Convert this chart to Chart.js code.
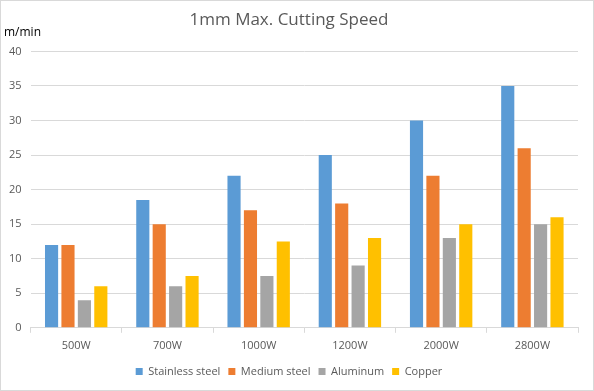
<!DOCTYPE html>
<html>
<head>
<meta charset="utf-8">
<script src="https://cdn.jsdelivr.net/npm/chart.js@4"></script>
<style>
  body { margin: 0; background: #fff; }
</style>
</head>
<body>
<canvas id="chart" width="594" height="391"></canvas>
<script>
const powers = ["500W", "700W", "1000W", "1200W", "2000W", "2800W"];
const stainless = [12, 18.5, 22, 25, 30, 35];
const medium = [12, 15, 17, 18, 22, 26];
const aluminum = [4, 6, 7.5, 9, 13, 15];
const copper = [6, 7.5, 12.5, 13, 15, 16];

const textColor = "#595959";
const gridColor = "#d9d9d9";
const font = "'Open Sans', 'Noto Sans', sans-serif";

const frame = {
  id: "frame",
  afterDraw(chart) {
    const ctx = chart.ctx;
    ctx.save();
    ctx.fillStyle = "#000";
    ctx.font = "12px " + font;
    ctx.textBaseline = "middle";
    ctx.fillText("m/min", 4, 33);
    ctx.strokeStyle = gridColor;
    ctx.lineWidth = 1;
    ctx.strokeRect(0.5, 0.5, 593, 390);
    ctx.restore();
  }
};

const bar = (label, data, color) => ({ label, data, backgroundColor: color, categoryPercentage: 0.72, barPercentage: 0.8 });

new Chart(document.querySelector("#chart"), {
  type: "bar",
  data: {
    labels: powers,
    datasets: [
      bar("Stainless steel", stainless, "#5b9bd5"),
      bar("Medium steel", medium, "#ed7d31"),
      bar("Aluminum", aluminum, "#a5a5a5"),
      bar("Copper", copper, "#ffc000")
    ]
  },
  options: {
    responsive: false,
    animation: false,
    layout: { padding: { left: 0, right: 16, top: 4, bottom: 4 } },
    plugins: {
      title: {
        display: true,
        text: "1mm Max. Cutting Speed",
        color: textColor,
        font: { family: font, size: 17, weight: "normal" },
        padding: { top: 6, bottom: 21 }
      },
      legend: {
        position: "bottom",
        labels: { boxWidth: 7, boxHeight: 7, color: textColor, font: { family: font, size: 11 }, padding: 8 }
      },
      tooltip: { enabled: false }
    },
    scales: {
      x: {
        grid: { drawOnChartArea: false, drawTicks: true, tickLength: 5, color: gridColor },
        border: { color: gridColor },
        ticks: { color: textColor, font: { family: font, size: 11 }, padding: 6 }
      },
      y: {
        min: 0,
        max: 40,
        ticks: { stepSize: 5, color: textColor, font: { family: font, size: 11 }, padding: 9 },
        grid: { color: gridColor, drawTicks: false },
        border: { display: false }
      }
    }
  },
  plugins: [frame]
});
</script>
</body>
</html>
